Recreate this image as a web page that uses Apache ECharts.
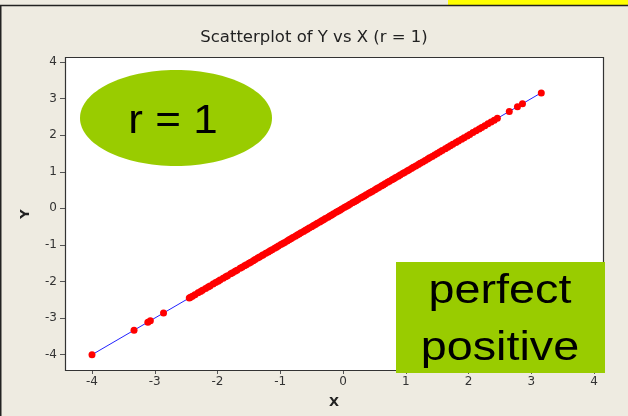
<!DOCTYPE html>
<html>
<head>
<meta charset="utf-8">
<title>Scatterplot of Y vs X</title>
<script src="https://cdn.jsdelivr.net/npm/echarts@6/dist/echarts.min.js"></script>
<style>
  html, body { margin: 0; padding: 0; background: #EEEBE1; }
  #chart { width: 628px; height: 416px; }
</style>
</head>
<body>
<div id="chart"></div>
<script>
// Sample values: Y is an exact linear function of X (r = 1)
const xValues = [
  -4.00, -3.33, -3.11, -3.07, -2.86,
  -2.45, -2.43, -2.40, -2.36, -2.31, -2.27, -2.24, -2.19, -2.15, -2.12,
  -2.07, -2.03, -1.99, -1.96, -1.91, -1.87, -1.84, -1.79, -1.76, -1.72,
  -1.69, -1.64, -1.61, -1.57, -1.54, -1.50, -1.47, -1.43, -1.40, -1.36,
  -1.33, -1.29, -1.27, -1.23, -1.19, -1.16, -1.13, -1.09, -1.06, -1.03,
  -0.99, -0.96, -0.93, -0.89, -0.86, -0.83, -0.80, -0.76, -0.73, -0.70,
  -0.67, -0.63, -0.60, -0.57, -0.54, -0.50, -0.47, -0.44, -0.41, -0.37,
  -0.34, -0.31, -0.28, -0.24, -0.21, -0.18, -0.15, -0.11, -0.08, -0.05,
  -0.02, 0.02, 0.05, 0.08, 0.11, 0.15, 0.18, 0.21, 0.24, 0.28,
  0.31, 0.34, 0.37, 0.41, 0.44, 0.47, 0.51, 0.54, 0.57, 0.61,
  0.64, 0.67, 0.71, 0.74, 0.78, 0.81, 0.84, 0.88, 0.91, 0.95,
  0.98, 1.02, 1.05, 1.09, 1.12, 1.16, 1.20, 1.23, 1.27, 1.31,
  1.35, 1.38, 1.42, 1.46, 1.50, 1.54, 1.58, 1.63, 1.67, 1.71,
  1.75, 1.80, 1.84, 1.89, 1.93, 1.98, 2.02, 2.07, 2.12, 2.17,
  2.21, 2.26, 2.31, 2.36, 2.41, 2.46, 2.65, 2.78, 2.86, 3.16
];
const yValues = [
  -4.00, -3.33, -3.11, -3.07, -2.86,
  -2.45, -2.43, -2.40, -2.36, -2.31, -2.27, -2.24, -2.19, -2.15, -2.12,
  -2.07, -2.03, -1.99, -1.96, -1.91, -1.87, -1.84, -1.79, -1.76, -1.72,
  -1.69, -1.64, -1.61, -1.57, -1.54, -1.50, -1.47, -1.43, -1.40, -1.36,
  -1.33, -1.29, -1.27, -1.23, -1.19, -1.16, -1.13, -1.09, -1.06, -1.03,
  -0.99, -0.96, -0.93, -0.89, -0.86, -0.83, -0.80, -0.76, -0.73, -0.70,
  -0.67, -0.63, -0.60, -0.57, -0.54, -0.50, -0.47, -0.44, -0.41, -0.37,
  -0.34, -0.31, -0.28, -0.24, -0.21, -0.18, -0.15, -0.11, -0.08, -0.05,
  -0.02, 0.02, 0.05, 0.08, 0.11, 0.15, 0.18, 0.21, 0.24, 0.28,
  0.31, 0.34, 0.37, 0.41, 0.44, 0.47, 0.51, 0.54, 0.57, 0.61,
  0.64, 0.67, 0.71, 0.74, 0.78, 0.81, 0.84, 0.88, 0.91, 0.95,
  0.98, 1.02, 1.05, 1.09, 1.12, 1.16, 1.20, 1.23, 1.27, 1.31,
  1.35, 1.38, 1.42, 1.46, 1.50, 1.54, 1.58, 1.63, 1.67, 1.71,
  1.75, 1.80, 1.84, 1.89, 1.93, 1.98, 2.02, 2.07, 2.12, 2.17,
  2.21, 2.26, 2.31, 2.36, 2.41, 2.46, 2.65, 2.78, 2.86, 3.15
];
const xTicks = [-4, -3, -2, -1, 0, 1, 2, 3, 4];
const yTicks = [-4, -3, -2, -1, 0, 1, 2, 3, 4];
const titleText = 'Scatterplot of Y vs X (r = 1)';
const xName = 'X';
const yName = 'Y';
const badgeText = 'r = 1';
const boxLines = ['perfect', 'positive'];

// Least-squares fitted line drawn across the observed X range
function fitLine(xs, ys) {
  const n = xs.length;
  const mx = xs.reduce((a, b) => a + b, 0) / n;
  const my = ys.reduce((a, b) => a + b, 0) / n;
  let sxy = 0, sxx = 0;
  for (let i = 0; i < n; i++) {
    sxy += (xs[i] - mx) * (ys[i] - my);
    sxx += (xs[i] - mx) * (xs[i] - mx);
  }
  const b = sxy / sxx;
  const a = my - b * mx;
  const x0 = Math.min(...xs), x1 = Math.max(...xs);
  return [[x0, a + b * x0], [x1, a + b * x1]];
}

const points = xValues.map((x, i) => [x, yValues[i]]);
const fit = fitLine(xValues, yValues);

const BG = '#EEEBE1';
const GREEN = '#99CC00';
const labelFont = { fontFamily: 'DejaVu Sans', fontSize: 12, color: '#333' };

// frame of the data region (the axes sit on its left and bottom edges)
const frame = { left: 65, top: 57, right: 603, bottom: 370 };
// pixel span of the ticks -4..4 inside the frame
const gridBox = { left: 92, right: 594, top: 62, bottom: 354.7 };

const chart = echarts.init(document.getElementById('chart'), null, { renderer: 'canvas' });

chart.setOption({
  backgroundColor: BG,
  animation: false,
  grid: {
    left: gridBox.left,
    right: 628 - gridBox.right,
    top: gridBox.top,
    bottom: 416 - gridBox.bottom,
    containLabel: false
  },
  xAxis: {
    type: 'value',
    min: xTicks[0],
    max: xTicks[xTicks.length - 1],
    interval: 1,
    offset: frame.bottom - gridBox.bottom,
    axisLine: { show: false, onZero: false },
    axisTick: { show: true, length: 4, inside: false, lineStyle: { color: '#555', width: 1 } },
    axisLabel: { ...labelFont, margin: 6, formatter: v => String(v) },
    splitLine: { show: false }
  },
  yAxis: {
    type: 'value',
    min: yTicks[0],
    max: yTicks[yTicks.length - 1],
    interval: 1,
    offset: gridBox.left - frame.left,
    axisLine: { show: false, onZero: false },
    axisTick: { show: true, length: 5, inside: false, lineStyle: { color: '#555', width: 1 } },
    axisLabel: { ...labelFont, margin: 8, formatter: v => String(v) },
    splitLine: { show: false }
  },
  series: [
    {
      name: 'fit',
      type: 'line',
      data: fit,
      symbol: 'none',
      lineStyle: { color: '#2222FF', width: 1 },
      z: 3,
      silent: true
    },
    {
      name: 'Y',
      type: 'scatter',
      data: points,
      symbol: 'circle',
      symbolSize: 7,
      itemStyle: { color: '#FF0000', opacity: 1 },
      z: 4
    }
  ],
  graphic: [
    // white plotting area and its border
    {
      type: 'rect', z: -10, silent: true,
      shape: { x: frame.left, y: frame.top, width: frame.right - frame.left, height: frame.bottom - frame.top },
      style: { fill: '#FFFFFF' }
    },
    {
      type: 'rect', z: 10, silent: true,
      shape: { x: frame.left + 0.5, y: frame.top + 0.5, width: frame.right - frame.left, height: frame.bottom - frame.top },
      style: { fill: null, stroke: '#333', lineWidth: 1.2 }
    },
    // title
    {
      type: 'text', z: 20, silent: true,
      x: 314, y: 38, scaleX: 1.1,
      style: { text: titleText, fontFamily: 'DejaVu Sans', fontSize: 15, fill: '#222', align: 'center', verticalAlign: 'middle' }
    },
    // page edges
    {
      type: 'rect', z: 20, silent: true,
      shape: { x: 448, y: 0, width: 180, height: 5 },
      style: { fill: '#FFFF00' }
    },
    {
      type: 'line', z: 20, silent: true,
      shape: { x1: 0, y1: 5.5, x2: 628, y2: 5.5 },
      style: { stroke: '#222', lineWidth: 1.5 }
    },
    {
      type: 'line', z: 20, silent: true,
      shape: { x1: 0.75, y1: 5, x2: 0.75, y2: 416 },
      style: { stroke: '#222', lineWidth: 1.5 }
    },
    // axis names
    {
      type: 'text', z: 20, silent: true,
      x: 334, y: 403,
      style: { text: xName, fontFamily: 'DejaVu Sans', fontSize: 13, fontWeight: 'bold', fill: '#222', align: 'center', verticalAlign: 'middle' }
    },
    {
      type: 'text', z: 20, silent: true,
      x: 26, y: 214, rotation: Math.PI / 2,
      style: { text: yName, fontFamily: 'DejaVu Sans', fontSize: 13, fontWeight: 'bold', fill: '#222', align: 'center', verticalAlign: 'middle' }
    },
    // green badge
    {
      type: 'ellipse', z: 30, silent: true,
      shape: { cx: 176, cy: 118, rx: 96, ry: 48 },
      style: { fill: GREEN }
    },
    {
      type: 'text', z: 31, silent: true,
      x: 173, y: 122, scaleX: 1.1,
      style: { text: badgeText, fontFamily: 'Liberation Sans', fontSize: 40, fill: '#000', align: 'center', verticalAlign: 'middle' }
    },
    // green caption box
    {
      type: 'rect', z: 30, silent: true,
      shape: { x: 396, y: 262, width: 209, height: 111 },
      style: { fill: GREEN }
    },
    {
      type: 'text', z: 31, silent: true,
      x: 500, y: 292, scaleX: 1.14,
      style: { text: boxLines[0], fontFamily: 'Liberation Sans', fontSize: 41, fill: '#000', align: 'center', verticalAlign: 'middle' }
    },
    {
      type: 'text', z: 31, silent: true,
      x: 500, y: 349, scaleX: 1.14,
      style: { text: boxLines[1], fontFamily: 'Liberation Sans', fontSize: 41, fill: '#000', align: 'center', verticalAlign: 'middle' }
    }
  ]
});
</script>
</body>
</html>
